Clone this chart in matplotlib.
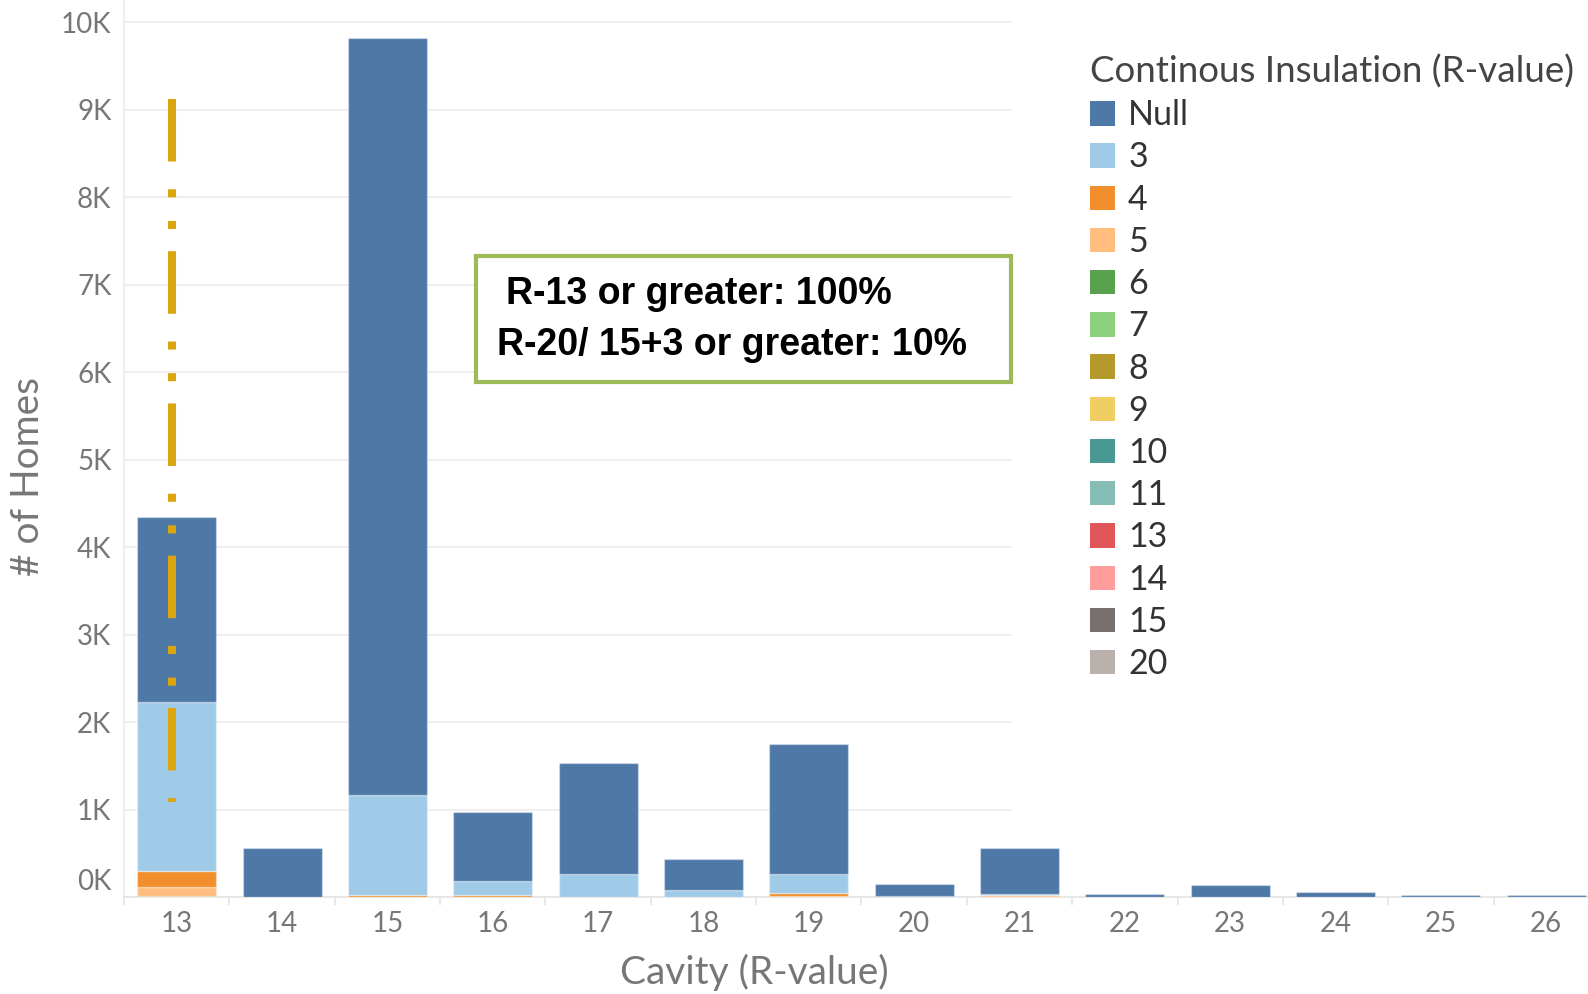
import matplotlib
matplotlib.use("Agg")
import numpy as np
import matplotlib.pyplot as plt
from matplotlib.patches import Patch, Rectangle
from matplotlib.transforms import ScaledTranslation

plt.rcParams['font.family'] = ['Lato', 'DejaVu Sans']
plt.rcParams['lines.scale_dashes'] = False

# Dados (numero de casas por cavidade / isolamento continuo)
cavity = [13, 14, 15, 16, 17, 18, 19, 20, 21, 22, 23, 24, 25, 26]
ci_null = [2121, 560, 8660, 789, 1266, 351, 1486, 138, 534, 38, 134, 57, 27, 27]
ci_3 = [1924, 0, 1138, 167, 267, 80, 221, 15, 10, 0, 0, 0, 0, 0]
ci_4 = [188, 0, 25, 20, 0, 0, 30, 0, 0, 0, 0, 0, 0, 0]
ci_5 = [95, 0, 0, 0, 0, 0, 15, 0, 20, 0, 0, 0, 0, 0]
ci_6 = [17, 0, 0, 0, 0, 0, 0, 0, 0, 0, 0, 0, 0, 0]

legend_labels = ['Null', '3', '4', '5', '6', '7', '8', '9', '10', '11', '13', '14', '15', '20']
legend_colors = ['#4E79A7', '#A0CBE8', '#F28E2B', '#FFBE7D', '#59A14F', '#8CD17D', '#B6992D',
                 '#F1CE63', '#499894', '#86BCB6', '#E15759', '#FF9D9A', '#79706E', '#BAB0AC']

# linha de referencia (traco-ponto) sobre a barra R-13
ref_x = 12.96
ref_y = [9127, 1085]

fig = plt.figure(figsize=(15.88, 9.94), dpi=100)
ax = fig.add_axes([124 / 1588, 97 / 994, 1 - 124 / 1588, 897 / 994])
ax.set_xlim(12.5, 26.396)
ax.set_ylim(0, 10255)

# barras empilhadas: 6 embaixo, Null em cima
stack = [(ci_6, '6'), (ci_5, '5'), (ci_4, '4'), (ci_3, '3'), (ci_null, 'Null')]
bottom = np.zeros(len(cavity))
for vals, lab in stack:
    col = legend_colors[legend_labels.index(lab)]
    ax.bar(cavity, vals, width=0.75, bottom=bottom, color=col,
           edgecolor=(1, 1, 1, 0.35), linewidth=1, zorder=3)
    bottom += np.array(vals, dtype=float)

# grade horizontal (termina antes da legenda)
for yv in range(0, 11000, 1000):
    ax.axhline(yv, xmin=0, xmax=0.606, color='#ececec', linewidth=1.2, zorder=1)

ax.plot([ref_x, ref_x], ref_y, color='#DBA510', linewidth=5.8,
        dashes=(45, 20, 5.8, 17, 5.8, 16), solid_capstyle='butt',
        dash_capstyle='butt', zorder=5)

for s in ['top', 'right']:
    ax.spines[s].set_visible(False)
ax.spines['left'].set_color('#ececec')
ax.spines['bottom'].set_color('#e4e4e4')
ax.spines['left'].set_linewidth(1.2)
ax.spines['bottom'].set_linewidth(1.2)

ax.set_yticks(range(0, 11000, 1000))
ax.set_yticklabels([f'{i}K' for i in range(11)])
ax.set_xticks(cavity)
ax.set_xticklabels([str(c) for c in cavity])
ax.set_xticks(np.arange(12.5, 26.5, 1), minor=True)
ax.tick_params(axis='y', length=0, pad=9, labelsize=20, labelcolor='#777777')
ax.tick_params(axis='x', which='major', length=0, pad=10, labelsize=20, labelcolor='#777777')
ax.tick_params(axis='x', which='minor', length=6, color='#e4e4e4', width=1.2)

# rotulo 0K fica um pouco acima da base, como no original
lab0 = ax.get_yticklabels()[0]
lab0.set_transform(lab0.get_transform() + ScaledTranslation(0, 0.18, fig.dpi_scale_trans))

ax.set_ylabel('# of Homes', fontsize=28, color='#777777', va='center')
ax.yaxis.set_label_coords(-0.0656, 0.469)
ax.set_xlabel('Cavity (R-value)', fontsize=28, color='#777777', va='center')
ax.xaxis.set_label_coords(0.4307, -0.0836)

# caixa de anotacao
box = Rectangle((476 / 1588, 1 - 382 / 994), (1011 - 476) / 1588, (382 - 256) / 994,
                transform=fig.transFigure, facecolor='white', edgecolor='#9BBB59',
                linewidth=3, zorder=6)
fig.add_artist(box)
fig.text(506 / 1588, 1 - 294 / 994, 'R-13 or greater: 100%', fontsize=27,
         fontweight='bold', family='Liberation Sans', va='center', ha='left', color='black', zorder=7)
fig.text(497 / 1588, 1 - 345 / 994, 'R-20/ 15+3 or greater: 10%', fontsize=27,
         fontweight='bold', family='Liberation Sans', va='center', ha='left', color='black', zorder=7)

handles = [Patch(facecolor=c, edgecolor='none') for c in legend_colors]
leg = fig.legend(handles, legend_labels, title='Continous Insulation (R-value)',
                 loc='upper left', bbox_to_anchor=(1073 / 1588, 1 - 38 / 994),
                 frameon=False, fontsize=24.5, title_fontsize=26.5,
                 handlelength=0.72, handleheight=0.72, handletextpad=0.4,
                 labelspacing=0.30, alignment='left', borderpad=0)
for t in leg.get_texts():
    t.set_color('#333333')
leg.get_title().set_color('#444444')

fig.savefig('out.png', dpi=100)
